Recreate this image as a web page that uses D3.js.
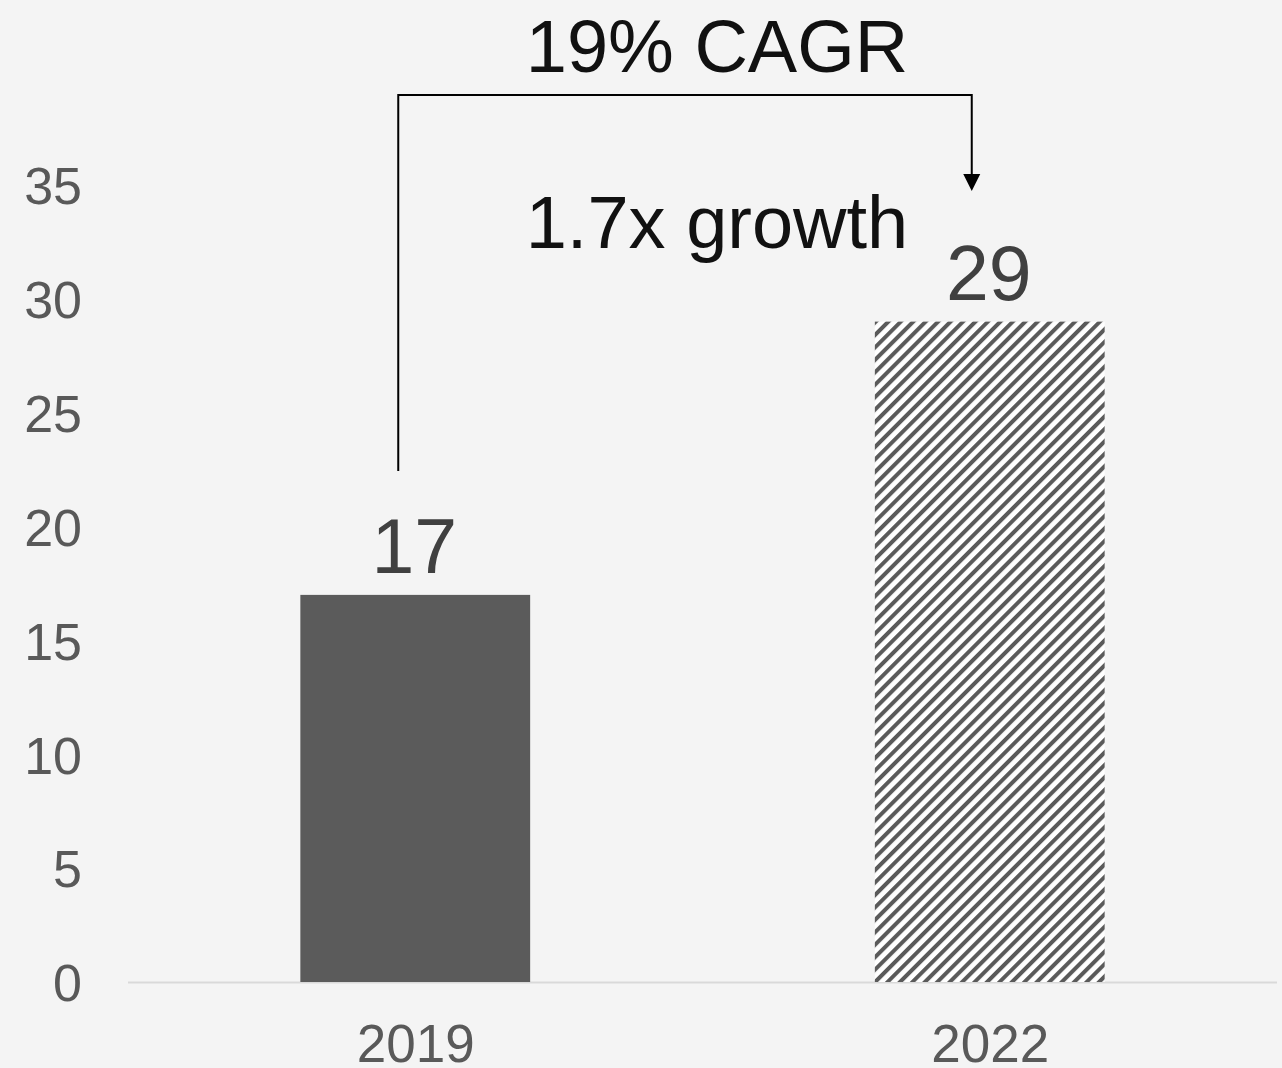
<!DOCTYPE html>
<html>
<head>
<meta charset="utf-8">
<script src="https://cdn.jsdelivr.net/npm/d3@7"></script>
<style>
  html, body { margin: 0; padding: 0; background: #f4f4f4; }
  svg { display: block; }
</style>
</head>
<body>
<script>
// Market size by year
const years = ["2019", "2022"];
const values = [17, 29];
const yTicks = [0, 5, 10, 15, 20, 25, 30, 35];
const cagrLabel = "19% CAGR";
const growthLabel = "1.7x growth";

const W = 1282, H = 1068;
const svg = d3.select("body").append("svg").attr("width", W).attr("height", H);
svg.append("rect").attr("width", W).attr("height", H).attr("fill", "#f4f4f4");

const x = d3.scalePoint().domain(years).range([128, 1277]).padding(0.5);
const y = d3.scaleLinear().domain([0, 35]).range([982, 185]);
const barW = x.step() * 0.4;

// diagonal hatch for the forecast year
const defs = svg.append("defs");
const pat = defs.append("pattern")
  .attr("id", "hatch")
  .attr("patternUnits", "userSpaceOnUse")
  .attr("width", 8.8).attr("height", 8.8)
  .attr("patternTransform", "rotate(45)");
pat.append("rect").attr("width", 8.8).attr("height", 8.8).attr("fill", "#ffffff");
pat.append("rect").attr("width", 4).attr("height", 8.8).attr("fill", "#5a5a5a");

// y axis labels (no axis line)
const yAxis = d3.axisLeft(y).tickValues(yTicks).tickSize(0).tickPadding(0);
const gy = svg.append("g").attr("transform", "translate(82,0)").call(yAxis);
gy.select(".domain").remove();
gy.selectAll("text")
  .attr("font-family", "Liberation Sans, Arial, sans-serif")
  .attr("font-size", 52)
  .attr("fill", "#595959")
  .attr("dy", "0.36em");

// baseline
svg.append("line")
  .attr("x1", 128).attr("x2", 1277)
  .attr("y1", y(0) + 0.5).attr("y2", y(0) + 0.5)
  .attr("stroke", "#d9d9d9").attr("stroke-width", 2);

// bars
svg.selectAll("rect.bar").data(years).enter().append("rect")
  .attr("class", "bar")
  .attr("x", d => x(d) - barW / 2)
  .attr("width", barW)
  .attr("y", (d, i) => y(values[i]))
  .attr("height", (d, i) => y(0) - y(values[i]))
  .attr("fill", (d, i) => i === 0 ? "#5b5b5b" : "url(#hatch)");

// value labels
svg.selectAll("text.val").data(years).enter().append("text")
  .attr("class", "val")
  .attr("x", d => x(d) - 1)
  .attr("y", (d, i) => y(values[i]) - 22)
  .attr("text-anchor", "middle")
  .attr("font-family", "Liberation Sans, Arial, sans-serif")
  .attr("font-size", 77)
  .attr("fill", "#404040")
  .text((d, i) => values[i]);

// category labels
const xAxis = d3.axisBottom(x).tickSize(0).tickPadding(0);
const gx = svg.append("g").attr("transform", `translate(0,${y(0)})`).call(xAxis);
gx.select(".domain").remove();
gx.selectAll("text")
  .attr("font-family", "Liberation Sans, Arial, sans-serif")
  .attr("font-size", 53)
  .attr("fill", "#595959")
  .attr("dy", "0")
  .attr("y", 80);

// growth bracket from 2019 to 2022
const xa = x(years[0]) - 17, xb = x(years[1]) - 18;
const topY = 95;
svg.append("path")
  .attr("d", `M${xa},${y(values[0]) - 124} V${topY} H${xb} V176`)
  .attr("fill", "none")
  .attr("stroke", "#000")
  .attr("stroke-width", 2);
svg.append("path")
  .attr("d", `M${xb - 8.5},174 L${xb + 8.5},174 L${xb},191 Z`)
  .attr("fill", "#000");

svg.append("text")
  .attr("x", 717).attr("y", 72)
  .attr("text-anchor", "middle")
  .attr("font-family", "Liberation Sans, Arial, sans-serif")
  .attr("font-size", 74)
  .attr("fill", "#111")
  .text(cagrLabel);

svg.append("text")
  .attr("x", 717).attr("y", 248)
  .attr("text-anchor", "middle")
  .attr("font-family", "Liberation Sans, Arial, sans-serif")
  .attr("font-size", 74)
  .attr("fill", "#111")
  .text(growthLabel);
</script>
</body>
</html>
